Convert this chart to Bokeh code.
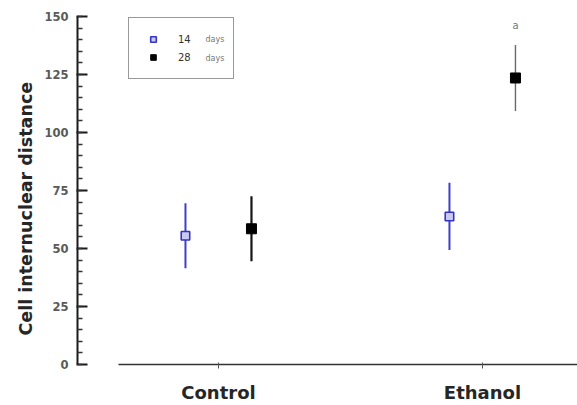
from bokeh.plotting import figure
from bokeh.models import (Range1d, FixedTicker, SingleIntervalTicker, Legend,
                          LegendItem, Label, Title, ColumnDataSource)
from bokeh.embed import file_html
from bokeh.resources import INLINE
from bokeh.core.properties import value

# ---- data ----
categories = ["Control", "Ethanol"]
mean_14 = [55.5, 63.8]
err_14 = [14.0, 14.5]
mean_28 = [58.5, 123.5]
err_28 = [14.0, 14.2]
sig_28 = ["", "a"]
series_labels = ["14", "28"]
y_ticks = [0, 25, 50, 75, 100, 125, 150]
y_title = "Cell internuclear distance"

# ---- derived ----
pos = [i + 1 for i in range(len(categories))]
dodge = 0.125
src14 = ColumnDataSource(dict(
    x=[p - dodge for p in pos], y=mean_14,
    lo=[m - e for m, e in zip(mean_14, err_14)],
    hi=[m + e for m, e in zip(mean_14, err_14)]))
src28 = ColumnDataSource(dict(
    x=[p + dodge for p in pos], y=mean_28,
    lo=[m - e for m, e in zip(mean_28, err_28)],
    hi=[m + e for m, e in zip(mean_28, err_28)],
    ty=[m + e + 8.5 for m, e in zip(mean_28, err_28)],
    sig=sig_28,
    col=["#151515", "#6a6a6a"],
    lw=[2.2, 1.4]))

FONT = "DejaVu Sans"

p = figure(width=577, height=405, output_backend="svg", toolbar_location=None,
           x_range=Range1d(0.466, 2.360), y_range=Range1d(y_ticks[0], y_ticks[-1]),
           min_border_left=77, min_border_right=0, min_border_top=16,
           min_border_bottom=41)
p.outline_line_color = None
p.grid.grid_line_color = None
p.background_fill_color = "white"
p.border_fill_color = "white"

# error bars
p.segment(x0="x", y0="lo", x1="x", y1="hi", source=src14,
          line_color="#3f3fc8", line_width=2)
p.segment(x0="x", y0="lo", x1="x", y1="hi", source=src28,
          line_color="col", line_width="lw")
# markers
r14 = p.scatter(x="x", y="y", source=src14, marker="square", size=8.5,
                fill_color="#c9c9f2", line_color="#3434c4", line_width=1.6)
r28 = p.scatter(x="x", y="y", source=src28, marker="square", size=10,
                fill_color="#000000", line_color="#000000")
# significance letter
p.text(x="x", y="ty", text="sig", source=src28, text_align="center",
       text_baseline="middle", text_font=value(FONT), text_font_size="10px",
       text_color="#777777")

# x axis
xa = p.xaxis[0]
xa.ticker = FixedTicker(ticks=pos)
xa.major_label_overrides = {p_: c for p_, c in zip(pos, categories)}
xa.bounds = (0.621, 2.360)
xa.axis_line_color = "#333333"
xa.axis_line_width = 1.5
xa.major_tick_in = 2
xa.major_tick_out = 4
xa.major_tick_line_color = "#555555"
xa.minor_tick_line_color = None
xa.major_label_text_font = FONT
xa.major_label_text_font_style = "bold"
xa.major_label_text_font_size = "18px"
xa.major_label_text_color = "#262626"
xa.major_label_standoff = 13

# y axis
ya = p.yaxis[0]
ya.ticker = SingleIntervalTicker(interval=25, num_minor_ticks=5)
ya.axis_line_color = "#1a1a1a"
ya.axis_line_width = 2
ya.major_tick_in = 10
ya.major_tick_out = 1
ya.major_tick_line_width = 2
ya.major_tick_line_color = "#1a1a1a"
ya.minor_tick_in = 5
ya.minor_tick_out = 0
ya.minor_tick_line_width = 1.5
ya.minor_tick_line_color = "#333333"
ya.major_label_text_font = FONT
ya.major_label_text_font_style = "bold"
ya.major_label_text_font_size = "11.5px"
ya.major_label_text_color = "#5a5a5a"
ya.major_label_standoff = 8

# y-axis title as a side title (sits slightly below the frame centre)
p.add_layout(Title(text=y_title, align="left", offset=29, standoff=12,
                   text_font=FONT, text_font_style="bold",
                   text_font_size="17.5px", text_color="#262626"), "left")

# legend
legend = Legend(items=[LegendItem(label=series_labels[0], renderers=[r14]),
                       LegendItem(label=series_labels[1], renderers=[r28])],
                location=(51, 285), padding=14, spacing=4, margin=0,
                glyph_width=20, glyph_height=14, label_height=14,
                label_width=41, label_standoff=15,
                label_text_font=FONT, label_text_font_size="10px",
                label_text_color="#333333",
                border_line_color="#333333", border_line_width=1.5,
                background_fill_alpha=0)
p.add_layout(legend, "center")
for i, t in enumerate(["days", "days"]):
    p.add_layout(Label(x=128, y=325 - 19 * i, x_units="screen", y_units="screen",
                       text=t, text_font=FONT, text_font_size="8px",
                       text_color="#777777", text_baseline="middle"))

open("out.html", "w").write(file_html(p, INLINE))
